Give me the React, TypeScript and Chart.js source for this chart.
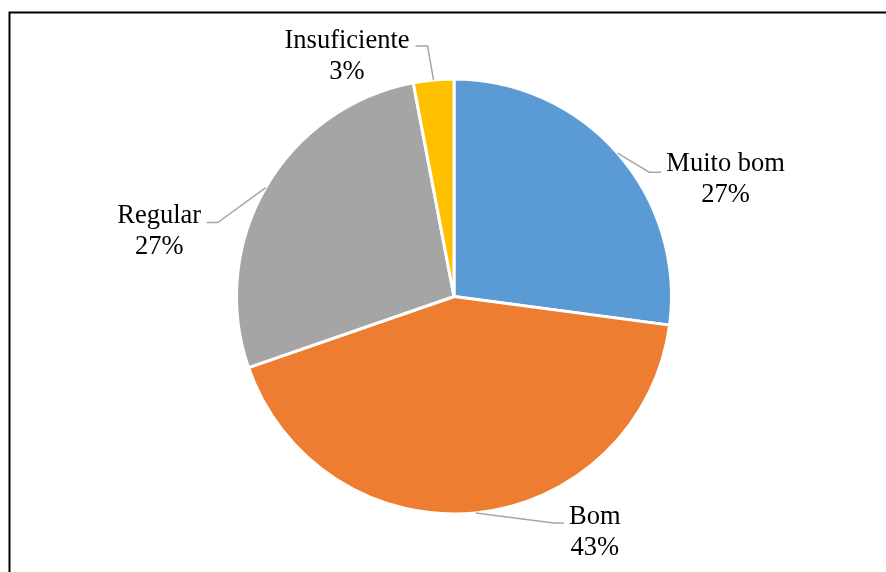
import React, { useEffect, useRef } from "react";
import { Chart, registerables } from "chart.js";

Chart.register(...registerables);

const categories = ["Muito bom", "Bom", "Regular", "Insuficiente"];
const values = [27.1, 42.6, 27.3, 3.0];
const colors = ["#5B9BD5", "#ED7D31", "#A5A5A5", "#FFC000"];

// label layout offsets relative to slice's outer mid-point: elbow, end, text center/baseline
const labelLayout = [
  { elbow: [31.5, 19], end: [43.5, 19], text: [108, 18] },
  { elbow: [78, 10], end: [88, 10], text: [119, 11] },
  { elbow: [-48, 35], end: [-59, 35], text: [-106.5, 35] },
  { elbow: [-6, -34], end: [-18, -34], text: [-86.5, -32] },
];

const framePlugin = {
  id: "frame",
  beforeDraw(chart: any) {
    const ctx = chart.ctx;
    ctx.save();
    ctx.fillStyle = "#ffffff";
    ctx.fillRect(0, 0, chart.width, chart.height);
    ctx.strokeStyle = "#000000";
    ctx.lineWidth = 2;
    ctx.beginPath();
    ctx.moveTo(9.5, chart.height);
    ctx.lineTo(9.5, 12.5);
    ctx.lineTo(chart.width, 12.5);
    ctx.stroke();
    ctx.restore();
  },
};

const labelPlugin = {
  id: "pieLabels",
  afterDatasetsDraw(chart: any) {
    const ctx = chart.ctx;
    const meta = chart.getDatasetMeta(0);
    const data = chart.data.datasets[0].data as number[];
    const total = data.reduce((a, b) => a + b, 0);
    ctx.save();
    meta.data.forEach((arc: any, i: number) => {
      const { x, y, startAngle, endAngle, outerRadius } = arc.getProps(
        ["x", "y", "startAngle", "endAngle", "outerRadius"],
        true
      );
      const mid = (startAngle + endAngle) / 2;
      const px = x + Math.cos(mid) * outerRadius;
      const py = y + Math.sin(mid) * outerRadius;
      const lay = labelLayout[i];
      ctx.strokeStyle = "#A6A6A6";
      ctx.lineWidth = 1.5;
      ctx.beginPath();
      ctx.moveTo(px, py);
      ctx.lineTo(px + lay.elbow[0], py + lay.elbow[1]);
      ctx.lineTo(px + lay.end[0], py + lay.end[1]);
      ctx.stroke();
      ctx.fillStyle = "#000000";
      ctx.font = '26.5px "Liberation Serif", "Times New Roman", serif';
      ctx.textAlign = "center";
      ctx.textBaseline = "alphabetic";
      const tx = px + lay.text[0];
      const ty = py + lay.text[1];
      ctx.fillText(chart.data.labels[i], tx, ty);
      ctx.fillText(Math.round((data[i] / total) * 100) + "%", tx, ty + 31);
    });
    ctx.restore();
  },
};

export default function App() {
  const ref = useRef<HTMLCanvasElement>(null);
  useEffect(() => {
    if (!ref.current) return;
    const chart = new Chart(ref.current, {
      type: "pie",
      data: {
        labels: categories,
        datasets: [
          {
            data: values,
            backgroundColor: colors,
            borderColor: "#ffffff",
            borderWidth: 3,
          },
        ],
      },
      options: {
        responsive: false,
        animation: false,
        devicePixelRatio: 1,
        layout: { padding: { top: 77, bottom: 56, left: 235, right: 213 } },
        plugins: {
          legend: { display: false },
          tooltip: { enabled: false },
        },
      },
      plugins: [framePlugin, labelPlugin],
    });
    return () => chart.destroy();
  }, []);
  return (
    <div style={{ position: "fixed", left: 0, top: 0, width: 886, height: 572, background: "#fff" }}>
      <canvas ref={ref} width={886} height={572} style={{ display: "block" }} />
    </div>
  );
}
